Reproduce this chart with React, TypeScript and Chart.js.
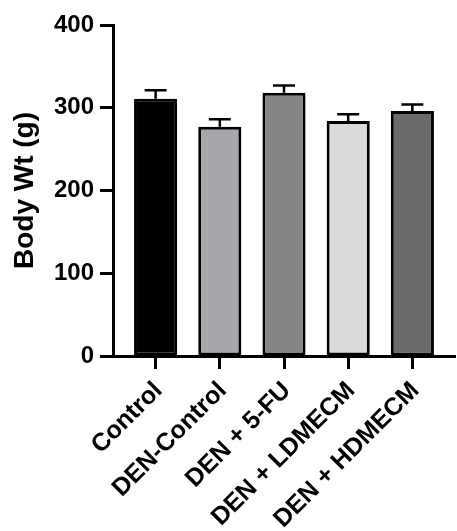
import React, { useEffect, useRef } from "react";
import { Chart, registerables } from "chart.js";

Chart.register(...registerables);

const categories = ["Control", "DEN-Control", "DEN + 5-FU", "DEN + LDMECM", "DEN + HDMECM"];
const bodyWeight = [311, 277, 318, 284, 296];
const sem = [10, 9, 9, 8, 8];
const barColors = ["#000000", "#a7a7ab", "#858585", "#d9d9d9", "#6a6a6a"];
const yTicks = [0, 100, 200, 300, 400];

const FONT = "'Liberation Sans', Arial, Helvetica, sans-serif";

const errorBarPlugin = {
  id: "errorBars",
  afterDatasetsDraw(chart: any) {
    const xs = chart.scales.x;
    const ys = chart.scales.y;
    const ctx = chart.ctx;
    ctx.save();
    ctx.strokeStyle = "#000";
    ctx.lineWidth = 2.5;
    bodyWeight.forEach((v, i) => {
      const x = xs.getPixelForValue(i);
      const yb = ys.getPixelForValue(v);
      const yt = ys.getPixelForValue(v + sem[i]);
      ctx.beginPath();
      ctx.moveTo(x, yb);
      ctx.lineTo(x, yt);
      ctx.moveTo(x - 11, yt);
      ctx.lineTo(x + 11, yt);
      ctx.stroke();
    });
    ctx.restore();
  },
};

export default function App() {
  const ref = useRef<HTMLCanvasElement>(null);
  useEffect(() => {
    if (!ref.current) return;
    const chart = new Chart(ref.current, {
      type: "bar",
      data: {
        datasets: [
          {
            data: bodyWeight.map((v, i) => ({ x: i, y: v })),
            backgroundColor: barColors,
            borderColor: "#000",
            borderWidth: 3,
            borderSkipped: false,
            categoryPercentage: 1,
            barPercentage: 0.672,
          },
        ],
      },
      options: {
        animation: false,
        responsive: true,
        maintainAspectRatio: false,
        layout: { padding: { top: 25, right: 2, left: 0, bottom: 0 } },
        plugins: { legend: { display: false }, tooltip: { enabled: false } },
        scales: {
          x: {
            type: "linear",
            offset: false,
            min: -0.664,
            max: 4.664,
            afterBuildTicks(scale: any) {
              scale.ticks = categories.map((_, i) => ({ value: i }));
            },
            grid: { display: true, drawOnChartArea: false, tickLength: 13, tickWidth: 3, color: "#000", offset: false },
            border: { display: true, color: "#000", width: 3 },
            ticks: {
              color: "#000",
              font: { family: FONT, size: 25, weight: "bold" },
              minRotation: 45,
              maxRotation: 45,
              autoSkip: false,
              padding: 7,
              labelOffset: 3,
              callback: (v: any) => categories[Math.round(Number(v))],
            },
            afterFit(scale: any) {
              scale.height = 175;
            },
          },
          y: {
            min: 0,
            max: 400,
            afterBuildTicks(scale: any) {
              scale.ticks = yTicks.map((v) => ({ value: v }));
            },
            grid: { display: true, drawOnChartArea: false, tickLength: 13, tickWidth: 3, color: "#000" },
            border: { display: true, color: "#000", width: 3 },
            ticks: {
              color: "#000",
              font: { family: FONT, size: 24, weight: "bold" },
              padding: 6,
            },
            title: {
              display: true,
              text: "Body Wt (g)",
              color: "#000",
              font: { family: FONT, size: 28, weight: "bold" },
              padding: { top: 8, bottom: 0 },
            },
            afterFit(scale: any) {
              scale.width = 113;
            },
          },
        },
      },
      plugins: [errorBarPlugin],
    });
    return () => chart.destroy();
  }, []);
  return (
    <div style={{ position: "absolute", left: 0, top: 0, width: 457, height: 531, background: "#fff" }}>
      <canvas ref={ref} />
    </div>
  );
}
